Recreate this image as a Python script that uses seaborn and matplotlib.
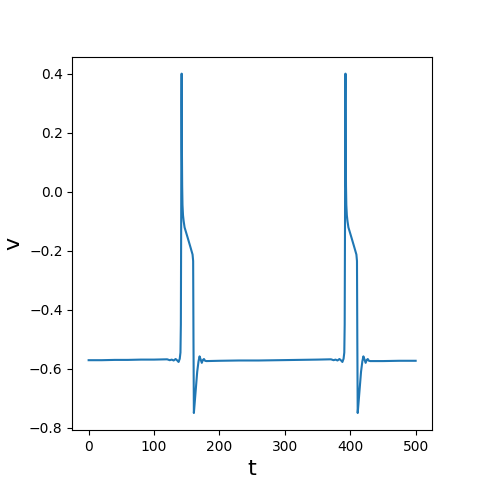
import matplotlib
matplotlib.use("Agg")
import matplotlib.pyplot as plt
import seaborn as sns

# membrane trace
t = [0, 20, 40, 60, 80, 100, 120, 124, 127, 130, 133, 135.5, 137.5, 139.3,
     140.4, 141.0, 141.5, 141.9, 142.2, 142.6, 143.0, 143.5, 144.3, 145.3,
     146.7, 151.3, 155.8, 158.9, 159.8, 160.3, 160.9, 162, 164, 166, 168,
     169.6, 171.2, 173, 174.8, 176.3, 178, 180, 200, 230, 260, 290, 320,
     350, 370.5, 374.5, 377.5, 380.5, 383.5, 386, 388, 389.8, 390.9, 391.5,
     392.0, 392.4, 392.7, 393.1, 393.5, 394.0, 394.8, 395.8, 397.2, 401.8,
     406.3, 409.4, 410.3, 410.8, 411.4, 412.5, 414.5, 416.5, 418.5, 420.1,
     421.7, 423.5, 425.3, 426.8, 428.5, 430.5, 450, 475, 500]
v = [-0.571, -0.571, -0.570, -0.570, -0.569, -0.569, -0.568, -0.571, -0.569,
     -0.572, -0.567, -0.572, -0.577, -0.566, -0.545, -0.45, -0.10, 0.30,
     0.40, 0.15, 0.02, -0.045, -0.080, -0.100, -0.121, -0.155, -0.189,
     -0.213, -0.235, -0.50, -0.75, -0.72, -0.665, -0.61, -0.575, -0.558,
     -0.568, -0.58, -0.57, -0.567, -0.573, -0.574, -0.573, -0.572, -0.572,
     -0.571, -0.570, -0.569, -0.568, -0.571, -0.569, -0.572, -0.567, -0.572,
     -0.577, -0.566, -0.545, -0.45, -0.10, 0.30, 0.40, 0.15, 0.02, -0.045,
     -0.080, -0.100, -0.121, -0.155, -0.189, -0.213, -0.235, -0.50, -0.75,
     -0.72, -0.665, -0.61, -0.575, -0.558, -0.568, -0.58, -0.57, -0.567,
     -0.573, -0.574, -0.574, -0.573, -0.573]

fig = plt.figure(figsize=(4.8, 4.84), dpi=100)
ax = fig.add_axes([0.1506, 0.1116, 0.7494, 0.7713])

sns.lineplot(x=t, y=v, ax=ax, color="#1f77b4", linewidth=1.5,
             estimator=None, sort=False)

ax.set_xlabel("t", fontsize=16)
ax.set_ylabel("v", fontsize=16)
ax.set_xticks([0, 100, 200, 300, 400, 500])
ax.set_yticks([-0.8, -0.6, -0.4, -0.2, 0.0, 0.2, 0.4])

fig.savefig("out.png", dpi=100)
